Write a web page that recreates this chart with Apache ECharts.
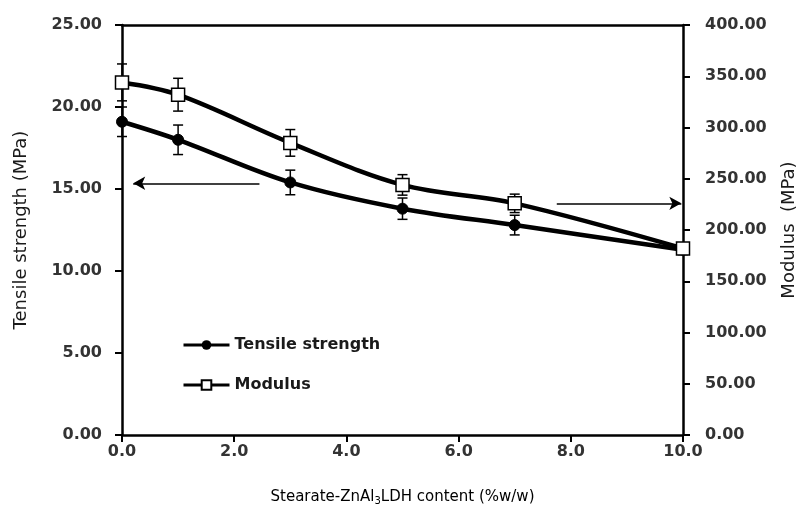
<!DOCTYPE html>
<html>
<head>
<meta charset="utf-8">
<script src="https://cdn.jsdelivr.net/npm/echarts@6/dist/echarts.min.js"></script>
<style>
  html, body { margin: 0; padding: 0; background: #fff; }
  #chart { width: 805px; height: 513px; }
</style>
</head>
<body>
<div id="chart"></div>
<script>
// filler content (%w/w)
var content = [0, 1, 3, 5, 7, 10]
// tensile strength (MPa), left axis
var tensile = [19.1, 18.0, 15.4, 13.8, 12.8, 11.3]
var tensileErr = [0.9, 0.9, 0.75, 0.65, 0.6, 0.3]
// modulus (MPa), right axis
var modulus = [344, 332, 285, 244, 226, 182]
var modulusErr = [18, 16, 13, 10, 9, 5]

var FONT = 'DejaVu Sans'
var TXT = '#1a1a1a'

function pairs(xs, ys) {
  return xs.map(function (x, i) { return [x, ys[i]] })
}
function errData(xs, ys, es) {
  return xs.map(function (x, i) { return [x, ys[i] - es[i], ys[i] + es[i]] })
}

// vertical error bar with caps
function renderErr(params, api) {
  var lo = api.coord([api.value(0), api.value(1)])
  var hi = api.coord([api.value(0), api.value(2)])
  var w = 5
  var st = { stroke: '#000', lineWidth: 1.5 }
  return {
    type: 'group',
    children: [
      { type: 'line', shape: { x1: lo[0], y1: lo[1], x2: hi[0], y2: hi[1] }, style: st },
      { type: 'line', shape: { x1: lo[0] - w, y1: lo[1], x2: lo[0] + w, y2: lo[1] }, style: st },
      { type: 'line', shape: { x1: hi[0] - w, y1: hi[1], x2: hi[0] + w, y2: hi[1] }, style: st }
    ]
  }
}

var chart = echarts.init(document.getElementById('chart'))

var axisLine = { show: true, onZero: false, lineStyle: { color: '#000', width: 2.5 } }
var axisTick = { show: true, inside: false, length: 7, lineStyle: { color: '#000', width: 2 } }
var tickFont = { fontFamily: FONT, fontSize: 16, fontWeight: 'bold', color: '#333' }

chart.setOption({
  animation: false,
  grid: { left: 122, right: 122, top: 25, bottom: 78, outerBoundsMode: 'none' },
  legend: {
    data: ['Tensile strength', 'Modulus'],
    orient: 'vertical',
    left: 182,
    top: 337,
    padding: 0,
    itemWidth: 46,
    itemHeight: 12,
    itemGap: 24,
    textStyle: { fontFamily: FONT, fontSize: 16, fontWeight: 'bold', color: TXT },
    lineStyle: { width: 3 }
  },
  xAxis: [{
    type: 'value',
    min: 0,
    max: 10,
    interval: 2,
    axisLine: axisLine,
    axisTick: axisTick,
    splitLine: { show: false },
    axisLabel: Object.assign({
      margin: 9,
      formatter: function (v) { return v.toFixed(1) }
    }, tickFont),
    name: '{a|Stearate-ZnAl}{s|3}{a|LDH content (%w/w)}',
    nameLocation: 'middle',
    nameGap: 53,
    nameTextStyle: {
      rich: {
        a: { fontFamily: FONT, fontSize: 15, color: '#000' },
        s: { fontFamily: FONT, fontSize: 10, color: '#000', verticalAlign: 'bottom', padding: [8, 0, 0, 0] }
      }
    }
  }, {
    type: 'value',
    position: 'top',
    min: 0,
    max: 10,
    axisLine: axisLine,
    axisTick: { show: false },
    axisLabel: { show: false },
    splitLine: { show: false }
  }],
  yAxis: [{
    type: 'value',
    min: 0,
    max: 25,
    interval: 5,
    axisLine: axisLine,
    axisTick: axisTick,
    splitLine: { show: false },
    axisLabel: Object.assign({
      margin: 20,
      formatter: function (v) { return v.toFixed(2) }
    }, tickFont),
    name: 'Tensile strength (MPa)',
    nameLocation: 'middle',
    nameRotate: 90,
    nameGap: 92,
    nameTextStyle: { fontFamily: FONT, fontSize: 18, color: TXT }
  }, {
    type: 'value',
    position: 'right',
    min: 0,
    max: 400,
    interval: 50,
    axisLine: axisLine,
    axisTick: axisTick,
    splitLine: { show: false },
    axisLabel: Object.assign({
      margin: 22,
      formatter: function (v) { return v.toFixed(2) }
    }, tickFont),
    name: 'Modulus  (MPa)',
    nameLocation: 'middle',
    nameRotate: 90,
    nameGap: 97,
    nameTextStyle: { fontFamily: FONT, fontSize: 18, color: TXT }
  }],
  series: [{
    name: 'Tensile strength',
    type: 'line',
    yAxisIndex: 0,
    data: pairs(content, tensile),
    smooth: 0.35,
    symbol: 'circle',
    symbolSize: 11,
    lineStyle: { color: '#000', width: 4.5 },
    itemStyle: { color: '#000', borderColor: '#000' },
    z: 3,
    markLine: {
      silent: true,
      symbol: ['none', 'arrow'],
      symbolSize: [10, 12],
      label: { show: false },
      lineStyle: { color: '#000', width: 1.5, type: 'solid' },
      data: [[{ coord: [2.45, 15.35] }, { coord: [0.2, 15.35] }]]
    }
  }, {
    name: 'Modulus',
    type: 'line',
    yAxisIndex: 1,
    data: pairs(content, modulus),
    smooth: 0.35,
    symbol: 'rect',
    symbolSize: 13,
    lineStyle: { color: '#000', width: 4.5 },
    itemStyle: { color: '#fff', borderColor: '#000', borderWidth: 1.5 },
    z: 3,
    markLine: {
      silent: true,
      symbol: ['none', 'arrow'],
      symbolSize: [10, 12],
      label: { show: false },
      lineStyle: { color: '#000', width: 1.5, type: 'solid' },
      data: [[{ coord: [7.75, 226] }, { coord: [9.97, 226] }]]
    }
  }, {
    name: 'tensileErr',
    type: 'custom',
    yAxisIndex: 0,
    data: errData(content, tensile, tensileErr),
    renderItem: renderErr,
    encode: { x: 0, y: [1, 2] },
    z: 2
  }, {
    name: 'modulusErr',
    type: 'custom',
    yAxisIndex: 1,
    data: errData(content, modulus, modulusErr),
    renderItem: renderErr,
    encode: { x: 0, y: [1, 2] },
    z: 2
  }]
})
</script>
</body>
</html>
